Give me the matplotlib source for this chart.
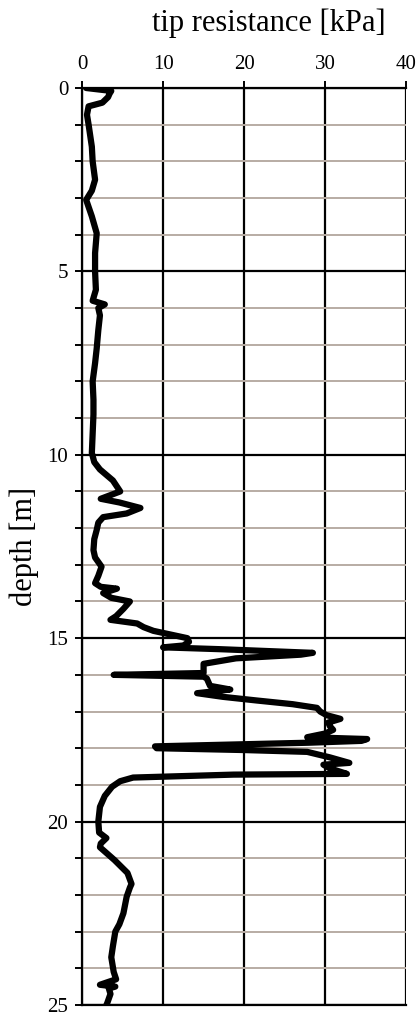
import matplotlib.pyplot as plt
from matplotlib.ticker import MultipleLocator

# tip resistance profile
depth = [0.0, 0.08, 0.15, 0.25, 0.4, 0.5, 0.73, 1.0, 1.6, 2.0, 2.5, 2.8, 3.05, 3.5, 3.96,
         4.5, 5.0, 5.5, 5.8, 5.9, 6.0, 6.2, 6.6, 7.1, 7.5, 8.0, 8.5, 8.9, 9.4, 9.95,
         10.2, 10.4, 10.7, 11.0, 11.2, 11.3, 11.45, 11.6, 11.7, 11.85, 12.05, 12.3, 12.6,
         12.8, 13.05, 13.3, 13.5, 13.6, 13.65, 13.77, 13.9, 14.0, 14.2, 14.4, 14.5, 14.6,
         14.7, 14.8, 14.9, 15.0, 15.1, 15.2, 15.25, 15.3, 15.4, 15.45, 15.55, 15.7, 15.95,
         16.0, 16.05, 16.1, 16.3, 16.4, 16.5, 16.6, 16.7, 16.8, 16.9, 17.0, 17.1, 17.2,
         17.3, 17.4, 17.5, 17.6, 17.7, 17.75, 17.8, 17.85, 17.95, 18.0, 18.05, 18.1,
         18.25, 18.4, 18.45, 18.55, 18.7, 18.72, 18.8, 18.9, 19.05, 19.3, 19.6, 20.0,
         20.3, 20.45, 20.6, 20.7, 21.05, 21.4, 21.7, 21.8, 22.05, 22.5, 22.8, 23.0, 23.4,
         23.7, 24.1, 24.3, 24.45, 24.5, 24.55, 24.7, 24.95, 25.0]
qc = [0.5, 3.6, 3.4, 3.2, 2.5, 0.8, 0.6, 0.8, 1.2, 1.3, 1.6, 1.2, 0.5, 1.2, 1.8,
      1.6, 1.6, 1.7, 1.3, 2.8, 2.0, 2.2, 2.0, 1.8, 1.6, 1.3, 1.4, 1.4, 1.3, 1.2,
      1.5, 2.2, 3.8, 4.7, 2.3, 4.6, 7.2, 5.5, 2.6, 2.0, 1.8, 1.5, 1.4,
      1.6, 2.4, 2.0, 1.6, 2.3, 4.3, 2.6, 3.6, 5.9, 5.1, 4.2, 3.5, 6.8,
      7.6, 8.8, 10.9, 13.0, 13.2, 12.5, 10.0, 17.0, 28.5, 27.0, 19.0, 15.0, 15.0,
      3.9, 15.0, 15.4, 15.8, 18.3, 14.2, 17.4, 21.6, 26.0, 29.0, 29.4, 30.2, 31.9,
      30.4, 30.6, 31.0, 30.0, 27.8, 35.2, 34.5, 28.0, 9.0, 9.2, 20.0, 27.8,
      30.6, 33.0, 29.8, 30.6, 32.7, 18.7, 6.3, 4.7, 3.7, 2.8, 2.2, 2.0,
      2.1, 3.0, 2.3, 2.2, 4.0, 5.6, 6.1, 5.9, 5.5, 5.1, 4.6, 4.1, 3.8,
      3.6, 3.9, 4.2, 2.2, 4.1, 3.3, 3.5, 3.1, 3.0]

x_ticks = [0, 10, 20, 30, 40]
y_ticks = [0, 5, 10, 15, 20, 25]

fig = plt.figure(figsize=(4.19, 10.15), dpi=100)
ax = fig.add_axes([0.196, 0.0099, 0.773, 0.9034])

ax.plot(qc, depth, color='black', lw=4.5, solid_joinstyle='round', solid_capstyle='round', zorder=3)

ax.set_xlim(0, 40)
ax.set_ylim(25, 0)
ax.xaxis.tick_top()
ax.xaxis.set_label_position('top')
ax.set_xticks(x_ticks)
ax.set_yticks(y_ticks)
ax.yaxis.set_minor_locator(MultipleLocator(1))

ax.grid(which='minor', axis='y', color='#b8aca4', lw=1.4, zorder=1)
ax.grid(which='major', axis='y', color='black', lw=1.6, zorder=2)
ax.grid(which='major', axis='x', color='black', lw=1.6, zorder=2)

for s in ['top', 'left', 'bottom']:
    ax.spines[s].set_linewidth(1.6)
ax.spines['right'].set_visible(False)

ax.tick_params(axis='x', which='major', direction='out', length=5, width=1.4, pad=5, labelsize=15)
ax.tick_params(axis='y', which='both', direction='out', length=5, width=1.4, pad=5, labelsize=15)
for lbl in ax.get_xticklabels() + ax.get_yticklabels():
    lbl.set_fontfamily('Liberation Serif')

ax.set_xlabel('tip resistance [kPa]', fontfamily='Liberation Serif', fontsize=22)
ax.xaxis.label.set_va('baseline')
ax.xaxis.set_label_coords(0.577, 1.062)
ax.set_ylabel('depth [m]', fontfamily='Liberation Serif', fontsize=22, labelpad=6)

fig.savefig('out.png', dpi=100, facecolor='white')
